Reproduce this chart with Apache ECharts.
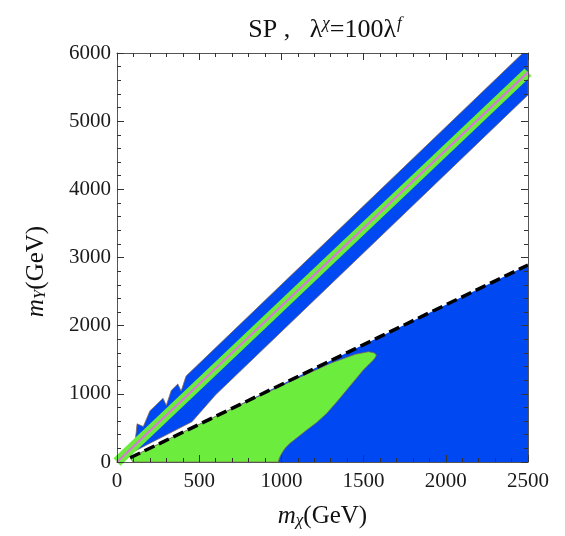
<!DOCTYPE html>
<html>
<head>
<meta charset="utf-8">
<script src="https://cdn.jsdelivr.net/npm/echarts@6/dist/echarts.min.js"></script>
<style>
html,body{margin:0;padding:0;background:#fff;}
#chart{width:565px;height:536px;}
</style>
</head>
<body>
<div id="chart"></div>
<script>
// ---- axis ticks ----
const xTickValues = [0, 500, 1000, 1500, 2000, 2500];
const yTickValues = [0, 1000, 2000, 3000, 4000, 5000, 6000];

// ---- regions (m_chi, m_Y) in GeV ----
// blue allowed band along the diagonal (upper edge then lower edge)
const blueBandUpper = [[116,420],[122,560],[160,520],[200,750],[280,935],[300,830],[330,1050],[370,1145],[390,1040],[420,1260],[2469,6000],[2500,6000]];
const blueBandLower = [[2500,5385],[600,985],[456,590],[100,150]];
// blue region below the kinematic (dashed) line
const blueLowerRegion = [[97,0],[80,62],[2500,2890],[2500,0]];
// green region
const greenRegion = [[97,0],[80,62],[600,670],[1100,1230],[1300,1450],[1450,1580],[1530,1618],[1565,1600],[1578,1570],[1570,1530],[1559,1496],[1530,1425],[1498,1350],[1450,1210],[1397,1056],[1340,890],[1276,714],[1215,580],[1154,469],[1100,365],[1052,274],[1022,200],[1002,127],[988,60],[981,0]];
// thin green stripe and magenta centre line
const centreLine = [[0,0],[2500,5720]];
// dashed line
const dashedLine = [[80,62],[2500,2890]];

const BLUE = '#0049f2';
const GREEN = '#6cec3c';
const EDGE = 'rgba(130,105,80,0.75)';
const SERIF = '"Liberation Serif", "DejaVu Serif", serif';

function polySeries(points, fill, stroke, z) {
  return {
    type: 'custom',
    coordinateSystem: 'cartesian2d',
    data: points,
    z: z,
    silent: true,
    clip: true,
    renderItem: function (params, api) {
      if (params.dataIndex !== 0) return null;
      const pts = points.map(p => api.coord(p));
      return {type: 'polygon', shape: {points: pts}, style: {fill: fill, stroke: stroke, lineWidth: 1}};
    }
  };
}

const chart = echarts.init(document.getElementById('chart'), null, {renderer: 'canvas'});

// frame axes with inward ticks, drawn above the filled regions
const axisCommon = {
  type: 'value',
  z: 10,
  axisLine: {show: true, onZero: false, lineStyle: {color: '#555', width: 1}},
  axisTick: {show: true, inside: true, length: 7, lineStyle: {color: '#333'}},
  minorTick: {show: true, splitNumber: 5, length: 4, lineStyle: {color: '#333'}},
  splitLine: {show: false},
  minorSplitLine: {show: false}
};
const plain = v => String(v);

const option = {
  backgroundColor: '#fff',
  animation: false,
  title: {
    text: '{a|SP ,   λ}{s|χ}{a|=100λ}{f|f}',
    left: 320,
    top: 10,
    textAlign: 'center',
    textStyle: {
      fontWeight: 'normal',
      rich: {
        a: {fontFamily: SERIF, fontSize: 26, fontWeight: 'normal', color: '#111'},
        s: {fontFamily: SERIF, fontSize: 17, fontWeight: 'normal', fontStyle: 'italic', color: '#111', padding: [0, 0, 14, 0]},
        f: {fontFamily: SERIF, fontSize: 17, fontWeight: 'normal', fontStyle: 'italic', color: '#111', padding: [0, 0, 14, 1]}
      }
    }
  },
  grid: {left: 117, right: 37, top: 53, bottom: 74, containLabel: false},
  xAxis: [
    Object.assign({}, axisCommon, {
      position: 'bottom',
      min: xTickValues[0], max: xTickValues[xTickValues.length - 1],
      interval: xTickValues[1] - xTickValues[0],
      axisLabel: {fontFamily: SERIF, fontSize: 21, color: '#1a1a1a', margin: 9, formatter: plain},
      name: '{i|m}{sub|χ}{a|(GeV)}',
      nameLocation: 'middle',
      nameGap: 42,
      nameTextStyle: {
        rich: {
          i: {fontFamily: SERIF, fontSize: 25, fontStyle: 'italic', color: '#111'},
          sub: {fontFamily: SERIF, fontSize: 17, fontStyle: 'italic', color: '#111', padding: [8, 0, 0, 0]},
          a: {fontFamily: SERIF, fontSize: 25, color: '#111'}
        }
      }
    }),
    Object.assign({}, axisCommon, {
      position: 'top',
      min: xTickValues[0], max: xTickValues[xTickValues.length - 1],
      interval: xTickValues[1] - xTickValues[0],
      axisLabel: {show: false}
    })
  ],
  yAxis: [
    Object.assign({}, axisCommon, {
      position: 'left',
      min: yTickValues[0], max: yTickValues[yTickValues.length - 1],
      interval: yTickValues[1] - yTickValues[0],
      axisLabel: {fontFamily: SERIF, fontSize: 21, color: '#1a1a1a', margin: 6, formatter: plain},
      name: '{i|m}{sub|Y}{a|(GeV)}',
      nameLocation: 'middle',
      nameRotate: 90,
      nameGap: 68,
      nameTextStyle: {
        padding: [0, 28, 0, 0],
        rich: {
          i: {fontFamily: SERIF, fontSize: 25, fontStyle: 'italic', color: '#111'},
          sub: {fontFamily: SERIF, fontSize: 17, fontStyle: 'italic', color: '#111', padding: [8, 0, 0, 0]},
          a: {fontFamily: SERIF, fontSize: 25, color: '#111'}
        }
      }
    }),
    Object.assign({}, axisCommon, {
      position: 'right',
      min: yTickValues[0], max: yTickValues[yTickValues.length - 1],
      interval: yTickValues[1] - yTickValues[0],
      axisLabel: {show: false}
    })
  ],
  series: [
    polySeries(blueLowerRegion, BLUE, null, 1),
    polySeries(greenRegion, GREEN, EDGE, 2),
    polySeries(blueBandUpper.concat(blueBandLower), BLUE, EDGE, 3),
    {
      type: 'line', data: centreLine, symbol: 'none', z: 4, silent: true,
      lineStyle: {color: GREEN, width: 10, cap: 'butt'}
    },
    {
      type: 'line', data: centreLine, symbol: 'none', z: 5, silent: true,
      lineStyle: {color: '#d67ad6', width: 2.2}
    },
    {
      type: 'line', data: dashedLine, symbol: 'none', z: 6, silent: true,
      lineStyle: {color: '#000', width: 3.5, type: [11, 5]}
    }
  ]
};

chart.setOption(option);
</script>
</body>
</html>
